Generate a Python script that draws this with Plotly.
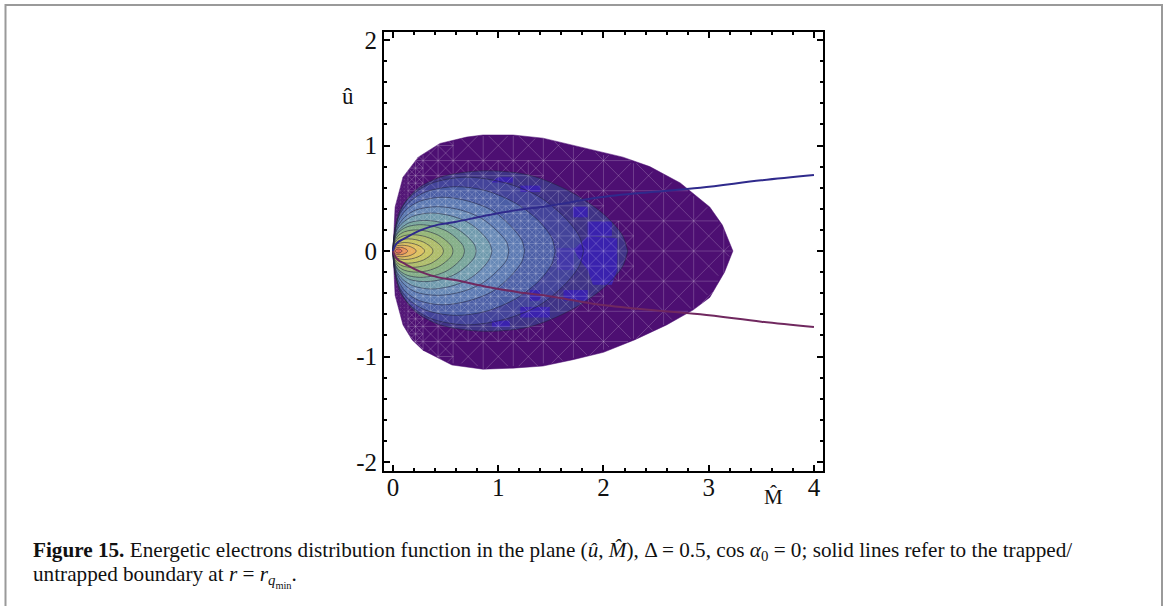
import numpy as np
from plotly import graph_objects as go

# outer edge of the distribution
outer_M_top = [0, 0.02, 0.095, 0.24, 0.447, 0.70, 0.855, 1.14, 1.425, 1.71, 1.97, 2.185, 2.44, 2.73, 3.01, 3.13, 3.23]
outer_u_top = [0, 0.417, 0.70, 0.89, 1.02, 1.08, 1.10, 1.10, 1.07, 1.005, 0.94, 0.89, 0.80, 0.645, 0.417, 0.246, 0]
outer_M_bot = [3.15, 3.01, 2.85, 2.6, 2.3, 2.0, 1.71, 1.425, 1.14, 0.855, 0.56, 0.285, 0.18, 0.095, 0.02, 0]
outer_u_bot = [-0.2, -0.44, -0.56, -0.70, -0.84, -0.96, -1.03, -1.09, -1.11, -1.12, -1.08, -0.94, -0.84, -0.70, -0.42, 0]

# contour levels, upper half (the plot is symmetric in u), outermost first
level_M = [
    [0, .02, .09, .22, .45, .85, 1.29, 1.69, 2.0, 2.18, 2.23],
    [0, .02, .07, .18, .36, .69, 1.05, 1.38, 1.63, 1.77, 1.81],
    [0, .015, .06, .15, .31, .59, .89, 1.17, 1.39, 1.51, 1.54],
    [0, .012, .05, .125, .25, .475, .725, .95, 1.125, 1.225, 1.25],
    [0, .011, .044, .11, .22, .42, .64, .84, .99, 1.08, 1.10],
    [0, .01, .038, .094, .19, .36, .545, .715, .846, .92, .94],
    [0, .008, .032, .08, .16, .30, .46, .60, .71, .775, .79],
    [0, .007, .027, .068, .136, .26, .395, .517, .61, .666, .68],
    [0, .006, .023, .057, .114, .217, .33, .433, .513, .56, .57],
    [0, .005, .019, .048, .096, .182, .278, .365, .432, .47, .48],
    [0, .004, .015, .038, .076, .144, .22, .289, .342, .372, .38],
    [0, .003, .012, .03, .06, .114, .174, .228, .27, .294, .30],
    [0, .002, .009, .022, .044, .084, .128, .167, .198, .216, .22],
    [0.005, .007, .012, .02, .034, .058, .085, .108, .127, .137, .14],
    [0.02, .021, .026, .032, .04, .052, .062, .07, .078, .083, .085],
]
level_u = [
    [0, .21, .42, .58, .70, .76, .72, .56, .35, .15, 0],
    [0, .20, .39, .53, .64, .70, .65, .52, .32, .14, 0],
    [0, .17, .34, .46, .56, .61, .57, .45, .28, .12, 0],
    [0, .14, .28, .39, .47, .51, .47, .38, .23, .10, 0],
    [0, .12, .23, .32, .39, .42, .39, .31, .19, .084, 0],
    [0, .10, .20, .27, .33, .36, .335, .27, .166, .07, 0],
    [0, .08, .16, .22, .27, .29, .27, .215, .133, .058, 0],
    [0, .07, .14, .19, .23, .25, .232, .185, .115, .05, 0],
    [0, .056, .11, .152, .184, .2, .186, .148, .092, .04, 0],
    [0, .043, .085, .118, .143, .155, .144, .115, .071, .031, 0],
    [0, .032, .063, .087, .106, .115, .107, .085, .053, .023, 0],
    [0, .022, .044, .061, .074, .08, .074, .059, .037, .016, 0],
    [0, .015, .03, .042, .051, .055, .051, .041, .025, .011, 0],
    [0, .01, .019, .027, .032, .035, .033, .026, .016, .007, 0],
    [0, .006, .011, .015, .018, .02, .018, .015, .01, .005, 0],
]
level_colors = ["#3f3386", "#44449a", "#4b5ea6", "#5a78b2", "#6688b6", "#6f9aad", "#76a59b", "#83ae86",
                "#94b574", "#aebc68", "#c6c45f", "#dcc15c", "#e8ad59", "#e88f55", "#dc6650"]

# deep blue patches between the outer levels
patch_M = [
    [.94, 1.0, 1.14, 1.14, .94],
    [1.21, 1.40, 1.40, 1.21],
    [1.71, 1.85, 1.85, 1.71],
    [1.85, 2.08, 2.08, 1.85],
    [1.85, 2.13, 2.13, 2.08, 1.9, 1.85, 1.75, 1.72],
    [1.62, 1.85, 1.85, 1.62],
    [1.30, 1.40, 1.40, 1.30],
    [1.21, 1.49, 1.49, 1.21],
    [.94, 1.11, 1.11, .94],
    [1.56, 1.72, 1.72, 1.56],
]
patch_u = [
    [.66, .70, .70, .65, .65],
    [.62, .62, .56, .56],
    [.42, .42, .32, .32],
    [.28, .28, .14, .14],
    [.14, .12, -.18, -.32, -.32, -.18, -.05, .02],
    [-.37, -.37, -.47, -.47],
    [-.37, -.37, -.47, -.47],
    [-.53, -.53, -.63, -.63],
    [-.66, -.66, -.72, -.72],
    [.03, .03, -.18, -.18],
]
patch_colors = ["#3a22ae"] * 9 + ["#4338a8"]

# trapped/untrapped boundary
bound_M = [0, .02, .05, .11, .27, .43, .59, .90, 1.19, 1.43, 1.59, 1.90, 2.35, 2.92, 3.5, 4.0]
bound_u = [0, .05, .085, .12, .20, .25, .275, .34, .39, .42, .445, .50, .55, .60, .67, .72]

x_ticks = [0, 1, 2, 3, 4]
y_ticks = [-2, -1, 0, 1, 2]
y_labels = ["-2", "-1", "0", "1", "2"]

SERIF = "Liberation Serif"
BASE = 4 / 14


def inside(px, py, poly_x, poly_y):
    # ray casting, px/py are arrays
    hit = np.zeros(len(px), dtype=bool)
    j = len(poly_x) - 1
    for i in range(len(poly_x)):
        cross = (poly_y[i] > py) != (poly_y[j] > py)
        with np.errstate(divide="ignore", invalid="ignore"):
            xc = (poly_x[j] - poly_x[i]) * (py - poly_y[i]) / (poly_y[j] - poly_y[i]) + poly_x[i]
        hit ^= cross & (px < xc)
        j = i
    return hit


outer_x = np.array(outer_M_top + outer_M_bot)
outer_y = np.array(outer_u_top + outer_u_bot)


def level_poly(k):
    return (np.array(level_M[k] + level_M[k][::-1]), np.array(level_u[k] + [-v for v in level_u[k][::-1]]))


c1x, c1y = level_poly(0)
c3x, c3y = level_poly(2)
c7x, c7y = level_poly(6)


def cell_size(m, u):
    # mesh gets finer towards the inner levels and along the left edge
    p_m, p_u = np.array([m]), np.array([u])
    if m < 0.12 or inside(p_m, p_u, c7x, c7y)[0]:
        return BASE / 8
    if m < 0.25 or inside(p_m, p_u, c3x, c3y)[0]:
        return BASE / 4
    if m < 0.6 or inside(p_m, p_u, c1x, c1y)[0]:
        return BASE / 2
    return BASE


def clip(x0, y0, x1, y1):
    t = np.linspace(0, 1, 12)
    xs, ys = x0 + (x1 - x0) * t, y0 + (y1 - y0) * t
    ok = inside(xs, ys, outer_x, outer_y)
    if not ok.any():
        return None
    a, b = t[ok][0], t[ok][-1]
    return x0 + (x1 - x0) * a, y0 + (y1 - y0) * a, x0 + (x1 - x0) * b, y0 + (y1 - y0) * b


mesh_x, mesh_y = [], []
fine_x, fine_y = [], []


def add_seg(x0, y0, x1, y1, fine):
    seg = clip(x0, y0, x1, y1)
    if seg:
        xs, ys = (fine_x, fine_y) if fine else (mesh_x, mesh_y)
        xs.extend([seg[0], seg[2], None])
        ys.extend([seg[1], seg[3], None])


def add_cell(m, u, s):
    if cell_size(m + s / 2, u + s / 2) < s - 1e-9:
        for dm in (0, s / 2):
            for du in (0, s / 2):
                add_cell(m + dm, u + du, s / 2)
        return
    fine = s < BASE / 5
    add_seg(m, u, m + s, u, fine)
    add_seg(m, u, m, u + s, fine)
    add_seg(m, u, m + s, u + s, fine)
    add_seg(m + s, u, m, u + s, fine)


for i in range(12):
    for j in range(-5, 5):
        add_cell(i * BASE, j * BASE, BASE)

fig = go.Figure()
fig.add_trace(go.Scatter(x=outer_x, y=outer_y, mode="lines", fill="toself", fillcolor="#4d0f72",
                         line=dict(color="#4d0f72", width=0.5), hoverinfo="skip"))

for k, color in enumerate(level_colors):
    lx, ly = level_poly(k)
    fig.add_trace(go.Scatter(x=lx, y=ly, mode="lines", fill="toself", fillcolor=color,
                             line=dict(width=0, shape="spline", smoothing=0.9), hoverinfo="skip"))
    if k == 1:
        for pm, pu, pc in zip(patch_M, patch_u, patch_colors):
            fig.add_trace(go.Scatter(x=pm, y=pu, mode="lines", fill="toself", fillcolor=pc,
                                     line=dict(width=0), hoverinfo="skip"))

fig.add_trace(go.Scatter(x=mesh_x, y=mesh_y, mode="lines", line=dict(color="rgba(255,255,255,0.25)", width=0.8),
                         hoverinfo="skip"))
fig.add_trace(go.Scatter(x=fine_x, y=fine_y, mode="lines", line=dict(color="rgba(255,255,255,0.09)", width=0.7),
                         hoverinfo="skip"))

# contour lines go over the mesh
for k in range(len(level_M)):
    lx, ly = level_poly(k)
    fig.add_trace(go.Scatter(x=lx, y=ly, mode="lines", hoverinfo="skip",
                             line=dict(color="rgba(35,35,60,0.55)", width=1, shape="spline", smoothing=0.9)))

fig.add_trace(go.Scatter(x=bound_M, y=bound_u, mode="lines", line=dict(color="#2f2a8c", width=2, shape="spline"),
                         hoverinfo="skip"))
fig.add_trace(go.Scatter(x=bound_M, y=[-v for v in bound_u], mode="lines",
                         line=dict(color="#70285f", width=2, shape="spline"), hoverinfo="skip"))

axis_style = dict(showgrid=False, zeroline=False, showline=True, linecolor="black", linewidth=2, mirror="allticks",
                  ticks="inside", ticklen=6, tickwidth=2, tickcolor="black",
                  tickfont=dict(family=SERIF, size=25, color="#111"),
                  minor=dict(dtick=0.2, ticks="inside", ticklen=3, tickwidth=2, tickcolor="black"))
fig.update_xaxes(range=[-0.0855, 4.086], tickvals=x_ticks, ticklabelstandoff=-7, **axis_style)
fig.update_yaxes(range=[-2.085, 2.076], tickvals=y_ticks, ticktext=y_labels, **axis_style)

L, R, T, B = 384, 823, 32, 471
W, H = R - L, B - T


def note(px, py, text, size=21.2, anchor="left"):
    fig.add_annotation(x=(px - L) / W, y=1 - (py - T) / H, xref="paper", yref="paper", text=text, showarrow=False,
                       xanchor=anchor, yanchor="middle", align="left", font=dict(family=SERIF, size=size, color="#111"))


note(348, 97, "û", size=23, anchor="center")
note(773, 497, "M̂", size=21, anchor="center")
note(31, 551, "<b>Figure 15.</b> Energetic electrons distribution function in the plane (<i>û</i>, <i>M̂</i>), "
              "Δ = 0.5, cos <i>α</i><sub>0</sub> = 0; solid lines refer to the trapped/")
note(31, 576, "untrapped boundary at <i>r</i> = <i>r</i><sub><i>q</i><sub>min</sub></sub>.")

# page frame, open at the bottom
fig.add_shape(type="path", xref="paper", yref="paper",
              path="M {} {} L {} {} L {} {} L {} {}".format(
                  (5.5 - L) / W, 1 - (606 - T) / H, (5.5 - L) / W, 1 - (5 - T) / H,
                  (1162 - L) / W, 1 - (5 - T) / H, (1162 - L) / W, 1 - (606 - T) / H),
              line=dict(color="#9a9a9a", width=2))

fig.update_layout(width=1168, height=606, margin=dict(l=L, r=1168 - R, t=T, b=606 - B), showlegend=False,
                  plot_bgcolor="white", paper_bgcolor="white")
fig.write_html("out.html", config=dict(displayModeBar=False),
               post_script="document.body.style.margin='0';")
